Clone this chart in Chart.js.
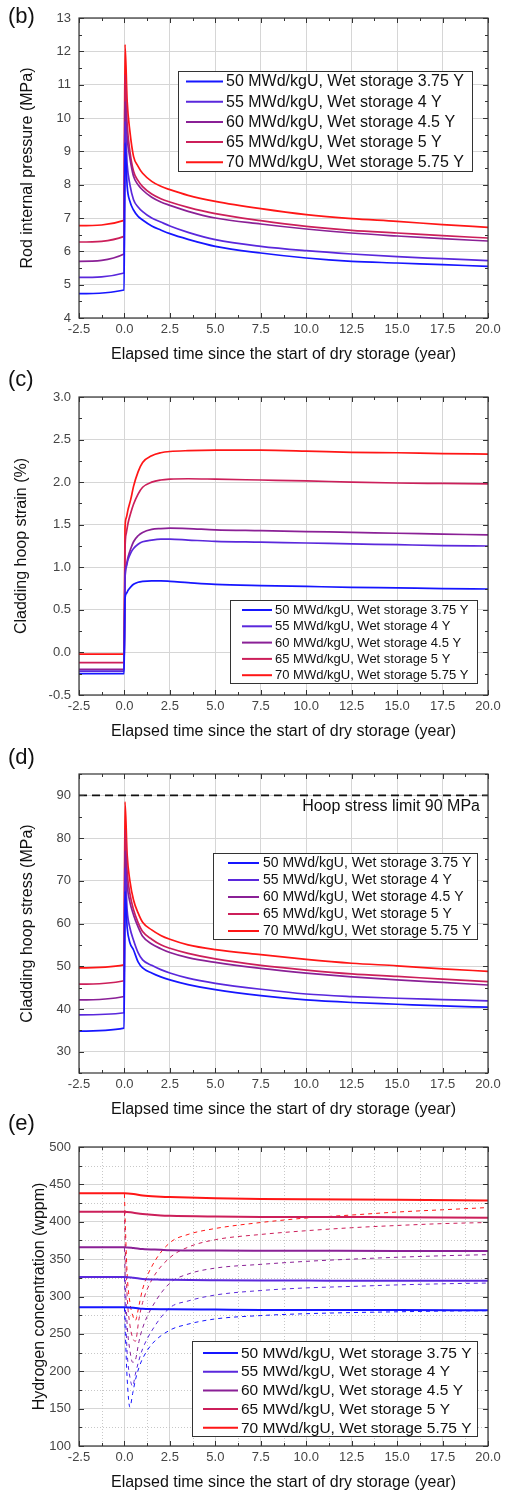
<!DOCTYPE html>
<html>
<head>
<meta charset="utf-8">
<script src="https://cdn.jsdelivr.net/npm/chart.js@4.4.1/dist/chart.umd.min.js"></script>
<style>
  html, body { margin: 0; padding: 0; background: #fff; width: 505px; height: 1495px; overflow: hidden; }
  .panel { position: absolute; left: 0; width: 505px; }
  .tag { position: absolute; left: 8px; font: 22px "Liberation Sans", Arial, sans-serif; color: #111; line-height: 1; }
</style>
</head>
<body>
<div class="panel" style="top:0px"><canvas id="chartB" width="505" height="368"></canvas></div>
<div class="panel" style="top:379px"><canvas id="chartC" width="505" height="366"></canvas></div>
<div class="panel" style="top:756px"><canvas id="chartD" width="505" height="367"></canvas></div>
<div class="panel" style="top:1129px"><canvas id="chartE" width="505" height="367"></canvas></div>
<div class="tag" style="top:5px">(b)</div>
<div class="tag" style="top:368px">(c)</div>
<div class="tag" style="top:746px">(d)</div>
<div class="tag" style="top:1112px">(e)</div>
<script>
// cases: burnup + wet storage time
const caseLabels = [
  '50 MWd/kgU, Wet storage 3.75 Y',
  '55 MWd/kgU, Wet storage 4 Y',
  '60 MWd/kgU, Wet storage 4.5 Y',
  '65 MWd/kgU, Wet storage 5 Y',
  '70 MWd/kgU, Wet storage 5.75 Y'
];
const caseColors = ['#1616ff', '#5a28dc', '#8a2096', '#cc1f5a', '#ff1616'];

const xTicks = [-2.5, 0, 2.5, 5, 7.5, 10, 12.5, 15, 17.5, 20];
const xTitle = 'Elapsed time since the start of dry storage (year)';

// (b) rod internal pressure, MPa
const timeB = [-2.5, -0.02, 0.03, 0.15, 0.3, 0.5, 0.75, 1, 1.5, 2, 2.5, 3.5, 5, 7.5, 10, 12.5, 15, 17.5, 20];
const pressure50 = [4.73, 4.84, 9.25, 7.95, 7.5, 7.24, 7.05, 6.94, 6.76, 6.64, 6.53, 6.36, 6.15, 5.95, 5.8, 5.7, 5.65, 5.6, 5.55];
const pressure55 = [5.22, 5.35, 9.9, 8.6, 8.0, 7.55, 7.33, 7.19, 7.0, 6.88, 6.76, 6.57, 6.35, 6.15, 6.02, 5.92, 5.84, 5.78, 5.72];
const pressure60 = [5.7, 5.92, 10.5, 9.4, 8.8, 8.25, 8.0, 7.84, 7.62, 7.48, 7.38, 7.2, 7.0, 6.82, 6.67, 6.55, 6.46, 6.38, 6.31];
const pressure65 = [6.28, 6.45, 11.3, 9.8, 9.0, 8.4, 8.12, 7.94, 7.72, 7.58, 7.48, 7.32, 7.13, 6.92, 6.75, 6.63, 6.55, 6.47, 6.4];
const pressure70 = [6.77, 6.93, 12.2, 10.5, 9.6, 8.85, 8.55, 8.34, 8.1, 7.95, 7.85, 7.68, 7.5, 7.28, 7.1, 6.98, 6.9, 6.8, 6.72];
const yTicksB = [4, 5, 6, 7, 8, 9, 10, 11, 12, 13];

// (c) cladding hoop strain, %
const timeC = [-2.5, -0.02, 0.03, 0.1, 0.2, 0.35, 0.5, 0.75, 1, 1.5, 2, 2.5, 3.5, 5, 7.5, 10, 12.5, 15, 17.5, 20];
const strain50 = [-0.25, -0.25, 0.62, 0.69, 0.73, 0.77, 0.8, 0.825, 0.835, 0.84, 0.84, 0.835, 0.82, 0.8, 0.785, 0.775, 0.765, 0.758, 0.75, 0.745];
const strain55 = [-0.22, -0.22, 0.85, 1.0, 1.09, 1.17, 1.22, 1.27, 1.3, 1.32, 1.33, 1.33, 1.32, 1.305, 1.295, 1.285, 1.275, 1.265, 1.255, 1.25];
const strain60 = [-0.2, -0.2, 0.85, 1.02, 1.12, 1.22, 1.3, 1.37, 1.41, 1.445, 1.455, 1.46, 1.455, 1.44, 1.43, 1.42, 1.41, 1.4, 1.39, 1.38];
const strain65 = [-0.12, -0.12, 1.2, 1.4, 1.52, 1.64, 1.74, 1.86, 1.94, 2.0, 2.025, 2.035, 2.04, 2.035, 2.025, 2.015, 2.0, 1.99, 1.985, 1.98];
const strain70 = [-0.02, -0.02, 1.45, 1.58, 1.68, 1.8, 1.95, 2.12, 2.23, 2.31, 2.345, 2.36, 2.37, 2.375, 2.375, 2.365, 2.35, 2.345, 2.335, 2.33];
const yTicksC = [-0.5, 0, 0.5, 1.0, 1.5, 2.0, 2.5, 3.0];

// (d) cladding hoop stress, MPa
const timeD = timeB;
const stress50 = [34.8, 35.5, 67.5, 59, 55.5, 53.8, 51.0, 49.6, 48.4, 47.5, 46.8, 45.7, 44.5, 43.1, 42.1, 41.5, 41.1, 40.7, 40.4];
const stress55 = [38.6, 39.1, 73, 63, 59, 56.1, 53.2, 51.5, 50.2, 49.2, 48.4, 47.2, 46.0, 44.6, 43.5, 42.9, 42.5, 42.2, 41.9];
const stress60 = [42.1, 42.9, 77, 69, 65, 62.0, 59.2, 57.0, 55.2, 54.1, 53.2, 52.0, 50.9, 49.5, 48.4, 47.5, 46.8, 46.2, 45.6];
const stress65 = [45.8, 46.6, 82, 72, 67, 63.2, 60.2, 58.1, 56.3, 55.0, 54.2, 53.0, 51.7, 50.2, 49.1, 48.2, 47.6, 47.0, 46.4];
const stress70 = [49.6, 50.3, 88.5, 76, 70, 65.5, 62.5, 60.3, 58.5, 57.2, 56.3, 55.0, 53.9, 52.7, 51.6, 50.7, 50.1, 49.4, 48.8];
const yTicksD = [30, 40, 50, 60, 70, 80, 90];
const stressLimit = 90;

// (e) hydrogen concentration, wppm (solid: total, dashed: second curve per case)
const timeE = [-2.5, 0, 0.5, 1, 2, 2.5, 5, 7.5, 10, 15, 20];
const hydrogen50 = [285.5, 285.5, 285, 283.5, 283, 283, 282.5, 282, 282, 282, 281.5];
const hydrogen55 = [326, 326, 325, 323.5, 322.5, 322.3, 321.8, 321.5, 321.3, 321, 321];
const hydrogen60 = [366, 366, 365, 363.5, 362.5, 362, 361.5, 361.3, 361.2, 361, 361];
const hydrogen65 = [413.5, 413.5, 412, 410.5, 408.5, 408, 407, 406.5, 406.5, 406, 405.5];
const hydrogen70 = [438, 438, 437, 435, 433.5, 433, 431.5, 430.5, 430, 429.5, 428.5];
const timeEd = [0, 0.05, 0.15, 0.3, 0.45, 0.6, 0.8, 1, 1.5, 2.5, 3.5, 5, 7.5, 10, 12.5, 15, 17.5, 20];
const dashed50 = [285, 250, 190, 152, 170, 188, 205, 217, 236, 255, 263, 270, 274.5, 277, 278.5, 279.5, 280.5, 281];
const dashed55 = [325, 285, 225, 192, 180, 196, 215, 230, 254, 285, 294, 302, 308, 311.5, 313.5, 315.5, 317, 318];
const dashed60 = [365, 320, 262, 228, 212, 215, 240, 258, 285, 318, 330, 338, 343, 347, 350, 352.5, 354.5, 356];
const dashed65 = [413, 365, 300, 262, 245, 240, 270, 292, 322, 352, 366, 376, 383, 388, 392, 395, 397.5, 399];
const dashed70 = [437, 395, 330, 292, 275, 268, 288, 310, 340, 372, 383, 391, 399, 405, 409, 413, 416, 419];
const yTicksE = [100, 150, 200, 250, 300, 350, 400, 450, 500];

const FONT = '"Liberation Sans", Arial, sans-serif';
Chart.defaults.font.family = FONT;
Chart.defaults.color = '#333';

function lineSets(time, series, extra) {
  return series.map((vals, i) => Object.assign({
    label: caseLabels[i],
    data: time.map((t, k) => ({ x: t, y: vals[k] })),
    borderColor: caseColors[i],
    borderWidth: 1.7,
    pointRadius: 0,
    fill: false,
    cubicInterpolationMode: 'monotone'
  }, extra || {}));
}

// box, inward ticks on all sides, optional dotted minor grid
const frame = {
  id: 'frame',
  beforeDatasetsDraw(chart, args, o) {
    if (!o.minorGrid) return;
    const { ctx, chartArea: a, scales: { x, y } } = chart;
    ctx.save();
    ctx.strokeStyle = '#c8c8c8';
    ctx.lineWidth = 1;
    ctx.setLineDash([1, 2]);
    o.xMinor.forEach(v => {
      const px = Math.round(x.getPixelForValue(v)) + 0.5;
      ctx.beginPath(); ctx.moveTo(px, a.top); ctx.lineTo(px, a.bottom); ctx.stroke();
    });
    o.yMinor.forEach(v => {
      const py = Math.round(y.getPixelForValue(v)) + 0.5;
      ctx.beginPath(); ctx.moveTo(a.left, py); ctx.lineTo(a.right, py); ctx.stroke();
    });
    ctx.restore();
  },
  afterDatasetsDraw(chart, args, o) {
    const { ctx, chartArea: a, scales: { x, y } } = chart;
    ctx.save();
    ctx.strokeStyle = '#333';
    ctx.lineWidth = 1.2;
    ctx.strokeRect(a.left, a.top, a.right - a.left, a.bottom - a.top);
    const tick = (vals, len, isX) => {
      vals.forEach(v => {
        ctx.beginPath();
        if (isX) {
          const px = Math.round(x.getPixelForValue(v)) + 0.5;
          ctx.moveTo(px, a.bottom); ctx.lineTo(px, a.bottom - len);
          ctx.moveTo(px, a.top); ctx.lineTo(px, a.top + len);
        } else {
          const py = Math.round(y.getPixelForValue(v)) + 0.5;
          ctx.moveTo(a.left, py); ctx.lineTo(a.left + len, py);
          ctx.moveTo(a.right, py); ctx.lineTo(a.right - len, py);
        }
        ctx.stroke();
      });
    };
    ctx.lineWidth = 1;
    tick(x.ticks.map(t => t.value), 5, true);
    tick(o.xMinor, 3, true);
    tick(y.ticks.map(t => t.value), 5, false);
    tick(o.yMinor, 3, false);
    if (o.limitText) {
      ctx.fillStyle = '#111';
      ctx.font = '16px ' + FONT;
      ctx.textAlign = 'right';
      ctx.textBaseline = 'middle';
      ctx.fillText(o.limitText, a.right - 8, y.getPixelForValue(o.limitValue) + 11);
    }
    ctx.restore();
  }
};

// legend drawn as a white box inside the plot
const boxLegend = {
  id: 'boxLegend',
  afterDatasetsDraw(chart, args, o) {
    const ctx = chart.ctx;
    const sets = chart.data.datasets.filter(d => !d.hideInLegend);
    ctx.save();
    ctx.fillStyle = '#fff';
    ctx.fillRect(o.x, o.y, o.w, o.h);
    ctx.strokeStyle = '#333';
    ctx.lineWidth = 1;
    ctx.strokeRect(o.x + 0.5, o.y + 0.5, o.w, o.h);
    ctx.font = o.size + 'px ' + FONT;
    ctx.textBaseline = 'middle';
    ctx.textAlign = 'left';
    sets.forEach((d, i) => {
      const yy = o.y + o.first + i * o.row;
      ctx.strokeStyle = d.borderColor;
      ctx.lineWidth = 2;
      ctx.beginPath();
      ctx.moveTo(o.x + o.line0, yy);
      ctx.lineTo(o.x + o.line1, yy);
      ctx.stroke();
      ctx.fillStyle = '#111';
      ctx.fillText(d.label, o.x + o.text, yy + 0.5);
    });
    ctx.restore();
  }
};

const xMinorTicks = [-1.25, 1.25, 3.75, 6.25, 8.75, 11.25, 13.75, 16.25, 18.75];

function makeChart(id, p) {
  return new Chart(document.getElementById(id), {
    type: 'line',
    data: { datasets: p.datasets },
    plugins: [frame, boxLegend],
    options: {
      responsive: false,
      animation: false,
      events: [],
      layout: { padding: { top: 18, right: 17, left: 0, bottom: 0 } },
      scales: {
        x: {
          type: 'linear', min: -2.5, max: 20,
          afterBuildTicks: s => { s.ticks = xTicks.map(v => ({ value: v })); },
          afterFit: s => { s.height = 50; },
          ticks: { font: { size: 13 }, color: '#444', padding: 4, maxRotation: 0, autoSkip: false,
                   callback: v => v.toFixed(1) },
          grid: { color: '#d6d6d6', lineWidth: 1, drawTicks: false },
          border: { display: false },
          title: { display: true, text: xTitle, font: { size: 16 }, color: '#111',
                   padding: { top: 0, bottom: 3.4 } }
        },
        y: {
          type: 'linear', min: p.yMin, max: p.yMax,
          afterBuildTicks: s => { s.ticks = p.yTicks.map(v => ({ value: v })); },
          afterFit: s => { s.width = 79; },
          ticks: { font: { size: 13 }, color: '#444', padding: 8, autoSkip: false, callback: p.yFmt },
          grid: { color: '#d6d6d6', lineWidth: 1, drawTicks: false },
          border: { display: false },
          title: { display: true, text: p.yTitle, font: { size: 16 }, color: '#111',
                   padding: { top: p.titlePad, bottom: 0 } }
        }
      },
      plugins: {
        legend: { display: false },
        tooltip: { enabled: false },
        frame: Object.assign({ xMinor: xMinorTicks, yMinor: p.yMinor, minorGrid: false }, p.frame || {}),
        boxLegend: p.legend
      }
    }
  });
}

makeChart('chartB', {
  datasets: lineSets(timeB, [pressure50, pressure55, pressure60, pressure65, pressure70]),
  yMin: 4, yMax: 13, yTicks: yTicksB, yFmt: v => String(v),
  yMinor: [4.5, 5.5, 6.5, 7.5, 8.5, 9.5, 10.5, 11.5, 12.5],
  yTitle: 'Rod internal pressure (MPa)', titlePad: 18.4,
  legend: { x: 178, y: 71, w: 294, h: 100, first: 10.5, row: 20.2, line0: 8, line1: 45, text: 48, size: 16 }
});

makeChart('chartC', {
  datasets: lineSets(timeC, [strain50, strain55, strain60, strain65, strain70]),
  yMin: -0.5, yMax: 3, yTicks: yTicksC, yFmt: v => v.toFixed(1),
  yMinor: [-0.25, 0.25, 0.75, 1.25, 1.75, 2.25, 2.75],
  yTitle: 'Cladding hoop strain (%)', titlePad: 12.4,
  legend: { x: 230, y: 221, w: 247, h: 83, first: 10, row: 16.3, line0: 12, line1: 42, text: 45, size: 13 }
});

makeChart('chartD', {
  datasets: lineSets(timeD, [stress50, stress55, stress60, stress65, stress70]).concat([{
    label: 'Hoop stress limit',
    hideInLegend: true,
    data: [{ x: -2.5, y: stressLimit }, { x: 20, y: stressLimit }],
    borderColor: '#111', borderWidth: 1.6, borderDash: [8, 5], pointRadius: 0
  }]),
  yMin: 25, yMax: 95, yTicks: yTicksD, yFmt: v => String(v),
  yMinor: [25, 35, 45, 55, 65, 75, 85, 95],
  yTitle: 'Cladding hoop stress (MPa)', titlePad: 18.4,
  frame: { limitText: 'Hoop stress limit 90 MPa', limitValue: stressLimit },
  legend: { x: 213, y: 97, w: 264, h: 86, first: 10, row: 17, line0: 15, line1: 46, text: 50, size: 14 }
});

makeChart('chartE', {
  datasets: lineSets(timeE, [hydrogen50, hydrogen55, hydrogen60, hydrogen65, hydrogen70], { borderWidth: 2 })
    .concat(lineSets(timeEd, [dashed50, dashed55, dashed60, dashed65, dashed70],
      { borderWidth: 1, borderDash: [4, 4], hideInLegend: true })),
  yMin: 100, yMax: 500, yTicks: yTicksE, yFmt: v => String(v),
  yMinor: [125, 175, 225, 275, 325, 375, 425, 475],
  yTitle: 'Hydrogen concentration (wppm)', titlePad: 30.4,
  frame: { minorGrid: true },
  legend: { x: 192, y: 212, w: 285, h: 95, first: 12, row: 18.7, line0: 11, line1: 46, text: 49, size: 15.5 }
});
</script>
</body>
</html>
